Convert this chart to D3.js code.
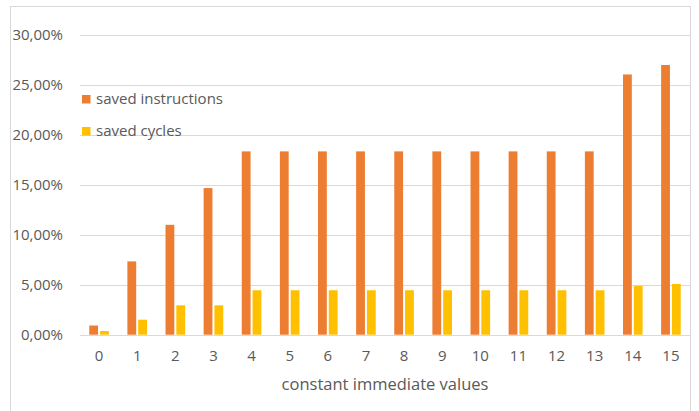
<!DOCTYPE html>
<html>
<head>
<meta charset="utf-8">
<script src="https://cdn.jsdelivr.net/npm/d3@7/dist/d3.min.js"></script>
<style>
  html, body { margin: 0; padding: 0; background: #fff; }
  svg { display: block; }
  text { font-family: "Open Sans", "Liberation Sans", sans-serif; fill: #595959; }
</style>
</head>
<body>
<svg id="chart" width="699" height="411"></svg>
<script>
// Immediate values 0..15 and the share of instructions / cycles saved (%)
const categories = ["0","1","2","3","4","5","6","7","8","9","10","11","12","13","14","15"];
const savedInstructions = [0.92, 7.34, 11.0, 14.68, 18.35, 18.35, 18.35, 18.35, 18.35, 18.35, 18.35, 18.35, 18.35, 18.35, 26.05, 27.0];
const savedCycles = [0.37, 1.5, 2.94, 2.94, 4.45, 4.45, 4.45, 4.45, 4.45, 4.45, 4.45, 4.45, 4.45, 4.45, 4.88, 5.08];
const seriesNames = ["saved instructions", "saved cycles"];
const seriesColors = ["#ED7D31", "#FFC000"];
const yTicks = [0, 5, 10, 15, 20, 25, 30];
const xTitle = "constant immediate values";

const svg = d3.select("#chart");
const plot = { left: 80, right: 690, top: 35, bottom: 334.7 };

// chart frame
svg.append("rect")
  .attr("x", 10.5).attr("y", 6.5)
  .attr("width", 680).attr("height", 420)
  .attr("fill", "#fff").attr("stroke", "#D9D9D9").attr("stroke-width", 1);

const x = d3.scaleBand().domain(categories).range([plot.left, plot.right]);
const y = d3.scaleLinear().domain([0, 30]).range([plot.bottom, plot.top]);

const fmt = v => d3.format(".2f")(v).replace(".", ",") + "%";

// gridlines
svg.append("g").selectAll("line").data(yTicks).join("line")
  .attr("x1", plot.left).attr("x2", plot.right)
  .attr("y1", d => Math.round(y(d)) + 0.5).attr("y2", d => Math.round(y(d)) + 0.5)
  .attr("stroke", "#D9D9D9").attr("stroke-width", 1);

// y axis labels
const yAxis = d3.axisLeft(y).tickValues(yTicks).tickFormat(fmt).tickSize(0).tickPadding(0);
const gy = svg.append("g").attr("transform", "translate(63,0)").call(yAxis);
gy.select(".domain").remove();
gy.selectAll("text").attr("font-size", 15).attr("fill", "#595959")
  .style("font-family", '"Open Sans", sans-serif');

// x axis labels
const xAxis = d3.axisBottom(x).tickSize(0).tickPadding(0);
const gx = svg.append("g").attr("transform", "translate(0,350)").call(xAxis);
gx.select(".domain").remove();
gx.selectAll("text").attr("font-size", 15).attr("fill", "#595959")
  .style("font-family", '"Open Sans", sans-serif');

// bars
const barW = 8.8, gap = 2;
const series = [savedInstructions, savedCycles];
series.forEach((vals, si) => {
  svg.append("g").selectAll("rect").data(vals).join("rect")
    .attr("x", (d, i) => x(categories[i]) + x.bandwidth() / 2 + (si === 0 ? -gap / 2 - barW : gap / 2))
    .attr("width", barW)
    .attr("y", d => y(d))
    .attr("height", d => y(0) - y(d))
    .attr("fill", seriesColors[si]);
});

// legend
const legend = svg.append("g");
seriesNames.forEach((name, i) => {
  const ly = 99 + i * 32;
  legend.append("rect").attr("x", 82).attr("y", ly - 4).attr("width", 8.5).attr("height", 8.5)
    .attr("fill", seriesColors[i]);
  legend.append("text").attr("x", 96).attr("y", ly).attr("dy", "0.35em")
    .attr("font-size", 15).text(name);
});

// x axis title
svg.append("text")
  .attr("x", (plot.left + plot.right) / 2).attr("y", 390)
  .attr("text-anchor", "middle").attr("font-size", 16.5).text(xTitle);
</script>
</body>
</html>
